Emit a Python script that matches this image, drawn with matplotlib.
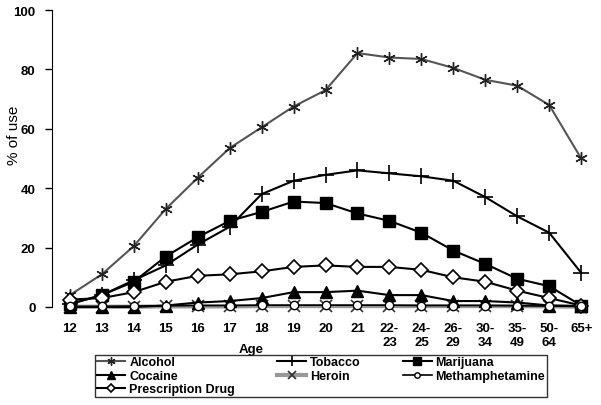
import matplotlib
matplotlib.use("Agg")
import matplotlib.pyplot as plt

plt.rcParams["font.family"] = ["Liberation Sans", "DejaVu Sans"]

ages = ["12", "13", "14", "15", "16", "17", "18", "19", "20", "21",
        "22-\n23", "24-\n25", "26-\n29", "30-\n34", "35-\n49", "50-\n64", "65+"]

alcohol = [4, 11, 20.5, 33, 43.5, 53.5, 60.5, 67.5, 73, 85.5,
           84, 83.5, 80.5, 76.5, 74.5, 68, 50]
tobacco = [1, 4, 9, 14, 21, 27, 38, 42.5, 44.5, 46,
           45, 44, 42.5, 37, 30.5, 25, 11.5]
marijuana = [1, 4, 8.5, 17, 23.5, 29, 32, 35.5, 35, 31.5,
             29, 25, 19, 14.5, 9.5, 7, 0.5]
cocaine = [0, 0, 0, 0.5, 1.5, 2, 3, 5, 5, 5.5,
           4, 4, 2, 2, 1.5, 0.5, 0.3]
heroin = [0.1, 0.1, 0.1, 0.2, 0.2, 0.2, 0.3, 0.3, 0.3, 0.3,
          0.3, 0.3, 0.3, 0.3, 0.3, 0.2, 0.1]
meth = [0.2, 0.2, 0.3, 0.4, 0.5, 0.5, 0.6, 0.6, 0.6, 0.6,
        0.6, 0.5, 0.5, 0.5, 0.4, 0.3, 0.2]
prescription = [2.5, 3, 5, 8.5, 10.5, 11, 12, 13.5, 14, 13.5,
                13.5, 12.5, 10, 8.5, 5.5, 3, 0.5]

fig = plt.figure(figsize=(6.01, 4.06), dpi=100)
ax = fig.add_axes([0.087, 0.2414, 0.896, 0.7315])
x = range(len(ages))

h_alc, = ax.plot(x, alcohol, color="#555555", lw=1.5, marker=(6, 2, 0), ms=9,
                 mec="#222222", mew=1.0, label="Alcohol", zorder=3)
h_tob, = ax.plot(x, tobacco, color="black", lw=1.5, marker="+", ms=12, mew=1.2,
                 label="Tobacco", zorder=3)
h_mar, = ax.plot(x, marijuana, color="black", lw=1.5, marker="s", ms=8,
                 label="Marijuana", zorder=4)
h_coc, = ax.plot(x, cocaine, color="black", lw=1.5, marker="^", ms=8,
                 label="Cocaine", zorder=4)
h_her, = ax.plot(x, heroin, color="#999999", lw=3, marker="x", ms=8, mec="#333333",
                 mew=1.2, label="Heroin", zorder=3)
h_met, = ax.plot(x, meth, color="black", lw=1.2, marker="o", ms=6,
                 mfc="white", mec="black", label="Methamphetamine", zorder=5)
h_pre, = ax.plot(x, prescription, color="black", lw=1.5, marker="D", ms=7,
                 mfc="white", mec="black", mew=1.2, label="Prescription Drug", zorder=4)
for h in [h_alc, h_tob, h_mar, h_coc, h_her, h_met, h_pre]:
    h.set_clip_on(False)

ax.set_xlim(-0.55, len(ages) - 0.7)
ax.set_ylim(0, 100)
ax.set_yticks([0, 20, 40, 60, 80, 100])
ax.set_xticks(list(x))
ax.set_xticklabels(ages, fontweight="bold", fontsize=9.5, linespacing=1.2)
for t in ax.get_yticklabels():
    t.set_fontweight("bold")
    t.set_fontsize(9.5)
ax.tick_params(axis="x", length=0, pad=11)
ax.tick_params(axis="y", direction="out", length=5, width=1, pad=7)
ax.spines["top"].set_visible(False)
ax.spines["right"].set_visible(False)
ax.spines["bottom"].set_visible(False)
ax.set_ylabel("% of use", fontsize=11)
ax.yaxis.set_label_coords(-0.058, 0.58)
ax.set_xlabel("Age", fontweight="bold", fontsize=9.5)
ax.xaxis.set_label_coords(0.37, -0.12)

order = [h_alc, h_coc, h_pre, h_tob, h_her, h_mar, h_met]
leg = ax.legend(handles=order, loc="upper left", bbox_to_anchor=(0.079, -0.16),
                ncol=3, frameon=True, fancybox=False, edgecolor="black",
                prop={"weight": "bold", "size": 9}, handlelength=2.3,
                handletextpad=0.3, columnspacing=3.4, labelspacing=0.12,
                borderpad=0.15, borderaxespad=0, markerscale=0.65)
leg.get_frame().set_linewidth(1)

fig.savefig("out.png", dpi=100)
